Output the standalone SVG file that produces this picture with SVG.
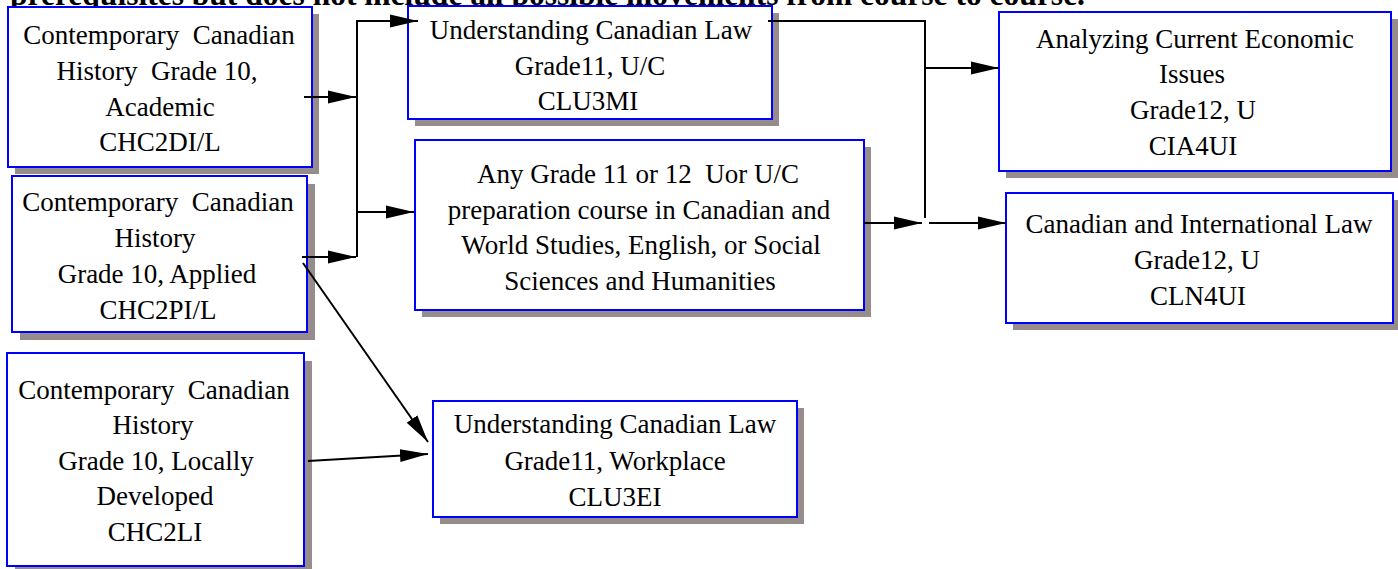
<svg xmlns="http://www.w3.org/2000/svg" width="1398" height="569" viewBox="0 0 1398 569">
<style>
  .shadow { fill: #968c8c; stroke: none; }
  .box { fill: #ffffff; stroke: #0000ff; stroke-width: 2; }
  .t { font-family: "Liberation Serif", "Times New Roman", serif; font-size: 27px; fill: #000; text-anchor: middle; }
  .title { font-family: "Liberation Serif", "Times New Roman", serif; font-size: 32px; font-weight: bold; fill: #000; }
  .c { fill: none; stroke: #000; stroke-width: 2; }
  .a { fill: none; stroke: #000; stroke-width: 2; marker-end: url(#arrow); }
</style>
<defs>
  <marker id="arrow" markerUnits="userSpaceOnUse" markerWidth="28" markerHeight="14" refX="28" refY="6.5" orient="auto" viewBox="0 0 28 13">
    <path d="M0,0 L28,6.5 L0,13 Z" fill="#000"/>
  </marker>
</defs>
<rect width="1398" height="569" fill="#ffffff"/>
<text class="title" x="10" y="5" textLength="1075" lengthAdjust="spacingAndGlyphs">prerequisites but does not include all possible movements from course to course.</text>

<g id="node-chc2dil">
  <rect class="shadow" x="15" y="14" width="304" height="160"/>
  <rect class="box" x="8" y="7" width="304" height="160"/>
  <text class="t" x="159" y="44">Contemporary&#160; Canadian</text>
  <text class="t" x="157" y="80">History&#160; Grade 10,</text>
  <text class="t" x="160" y="116">Academic</text>
  <text class="t" x="160" y="151">CHC2DI/L</text>
</g>
<g id="node-chc2pil">
  <rect class="shadow" x="20" y="184" width="295" height="156"/>
  <rect class="box" x="12" y="176" width="295" height="156"/>
  <text class="t" x="158" y="211">Contemporary&#160; Canadian</text>
  <text class="t" x="155" y="247">History</text>
  <text class="t" x="157" y="283">Grade 10, Applied</text>
  <text class="t" x="158" y="319">CHC2PI/L</text>
</g>
<g id="node-chc2li">
  <rect class="shadow" x="15" y="361" width="297" height="213"/>
  <rect class="box" x="7" y="353" width="297" height="213"/>
  <text class="t" x="154" y="399">Contemporary&#160; Canadian</text>
  <text class="t" x="153" y="434">History</text>
  <text class="t" x="156" y="470">Grade 10, Locally</text>
  <text class="t" x="155" y="505">Developed</text>
  <text class="t" x="155" y="541">CHC2LI</text>
</g>
<g id="node-clu3mi">
  <rect class="shadow" x="415" y="13" width="364" height="113"/>
  <rect class="box" x="408" y="6" width="364" height="113"/>
  <text class="t" x="591" y="39">Understanding Canadian Law</text>
  <text class="t" x="590" y="75">Grade11, U/C</text>
  <text class="t" x="588" y="110">CLU3MI</text>
</g>
<g id="node-any">
  <rect class="shadow" x="422" y="147" width="449" height="170"/>
  <rect class="box" x="415" y="140" width="449" height="170"/>
  <text class="t" x="638" y="183">Any Grade 11 or 12&#160; Uor U/C</text>
  <text class="t" x="639" y="219">preparation course in Canadian and</text>
  <text class="t" x="641" y="254">World Studies, English, or Social</text>
  <text class="t" x="640" y="290">Sciences and Humanities</text>
</g>
<g id="node-cia4ui">
  <rect class="shadow" x="1006" y="19" width="392" height="159"/>
  <rect class="box" x="999" y="12" width="392" height="159"/>
  <text class="t" x="1195" y="48">Analyzing Current Economic</text>
  <text class="t" x="1192" y="83">Issues</text>
  <text class="t" x="1193" y="119">Grade12, U</text>
  <text class="t" x="1193" y="155">CIA4UI</text>
</g>
<g id="node-cln4ui">
  <rect class="shadow" x="1013" y="200" width="387" height="130"/>
  <rect class="box" x="1006" y="193" width="387" height="130"/>
  <text class="t" x="1199" y="233">Canadian and International Law</text>
  <text class="t" x="1197" y="269">Grade12, U</text>
  <text class="t" x="1198" y="305">CLN4UI</text>
</g>
<g id="node-clu3ei">
  <rect class="shadow" x="440" y="408" width="364" height="116"/>
  <rect class="box" x="433" y="401" width="364" height="116"/>
  <text class="t" x="615" y="433">Understanding Canadian Law</text>
  <text class="t" x="615" y="470">Grade11, Workplace</text>
  <text class="t" x="615" y="506">CLU3EI</text>
</g>

<g id="connectors">
  <line class="a" x1="304" y1="97" x2="356" y2="97"/>
  <line class="c" x1="357" y1="21" x2="357" y2="257"/>
  <line class="a" x1="356" y1="21" x2="418" y2="21"/>
  <line class="a" x1="357" y1="212" x2="414" y2="212"/>
  <line class="a" x1="302" y1="257" x2="356" y2="257"/>
  <line class="a" x1="303" y1="263" x2="428" y2="442"/>
  <line class="a" x1="308" y1="461" x2="428" y2="454"/>
  <polyline class="c" points="768,21 925,21 925,218"/>
  <line class="a" x1="926" y1="68" x2="999" y2="68"/>
  <line class="a" x1="864" y1="223" x2="922" y2="223"/>
  <line class="a" x1="929" y1="223" x2="1006" y2="223"/>
</g>
</svg>
